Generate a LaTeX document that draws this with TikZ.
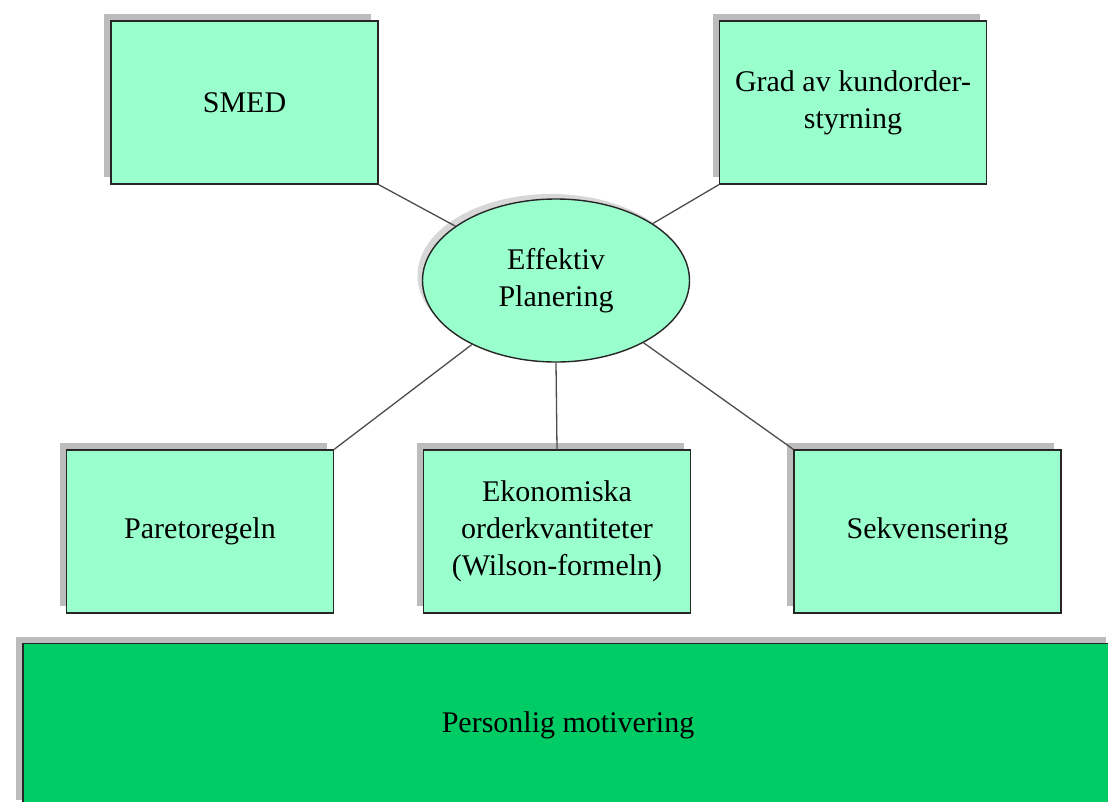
\documentclass[tikz,border=0pt]{standalone}
\usepackage{fontspec}
\setmainfont{Liberation Serif}
\usetikzlibrary{shapes.geometric,shadows}

\definecolor{mint}{RGB}{153,255,204}
\definecolor{leaf}{RGB}{0,204,102}
\definecolor{shade}{RGB}{188,188,188}

\begin{document}
\begin{tikzpicture}[
    x=1pt, y=-1pt,
    box/.style={draw=black!85, line width=1.4pt, fill=mint, align=center,
      minimum width=267pt, minimum height=163pt, inner sep=0pt,
      font=\fontsize{30}{37}\selectfont,
      drop shadow={shadow xshift=-7pt, shadow yshift=7pt, fill=shade, opacity=1}},
    hub/.style={draw=black!85, line width=1.4pt, fill=mint, align=center,
      ellipse, minimum width=267pt, minimum height=163pt, inner sep=0pt,
      font=\fontsize{30}{37}\selectfont,
      drop shadow={shadow xshift=-5pt, shadow yshift=5pt, fill=shade!60, opacity=1}},
    base/.style={box, fill=leaf, minimum width=1090pt},
    link/.style={draw=black!70, line width=1.3pt}
  ]
  \useasboundingbox (0,0) rectangle (1108,801);
  \node[box] (smed) at (244.5,102.5) {SMED};
  \node[box] (grad) at (853,102.5) {Grad av kundorder-\\styrning};
  \node[hub] (eff) at (556,280.5) {Effektiv\\Planering};
  \node[box] (pareto) at (200,531.5) {Paretoregeln};
  \node[box] (eok) at (557,531.5) {Ekonomiska\\orderkvantiteter\\(Wilson-formeln)};
  \node[box] (sekv) at (927.5,531.5) {Sekvensering};
  \node[base] (motiv) at (568,725) {Personlig motivering};
  \draw[link] (smed.south east) -- (eff);
  \draw[link] (grad.south west) -- (eff);
  \draw[link] (pareto.north east) -- (eff);
  \draw[link] (eok.north) -- (eff.south);
  \draw[link] (sekv.north west) -- (eff);
\end{tikzpicture}
\end{document}
